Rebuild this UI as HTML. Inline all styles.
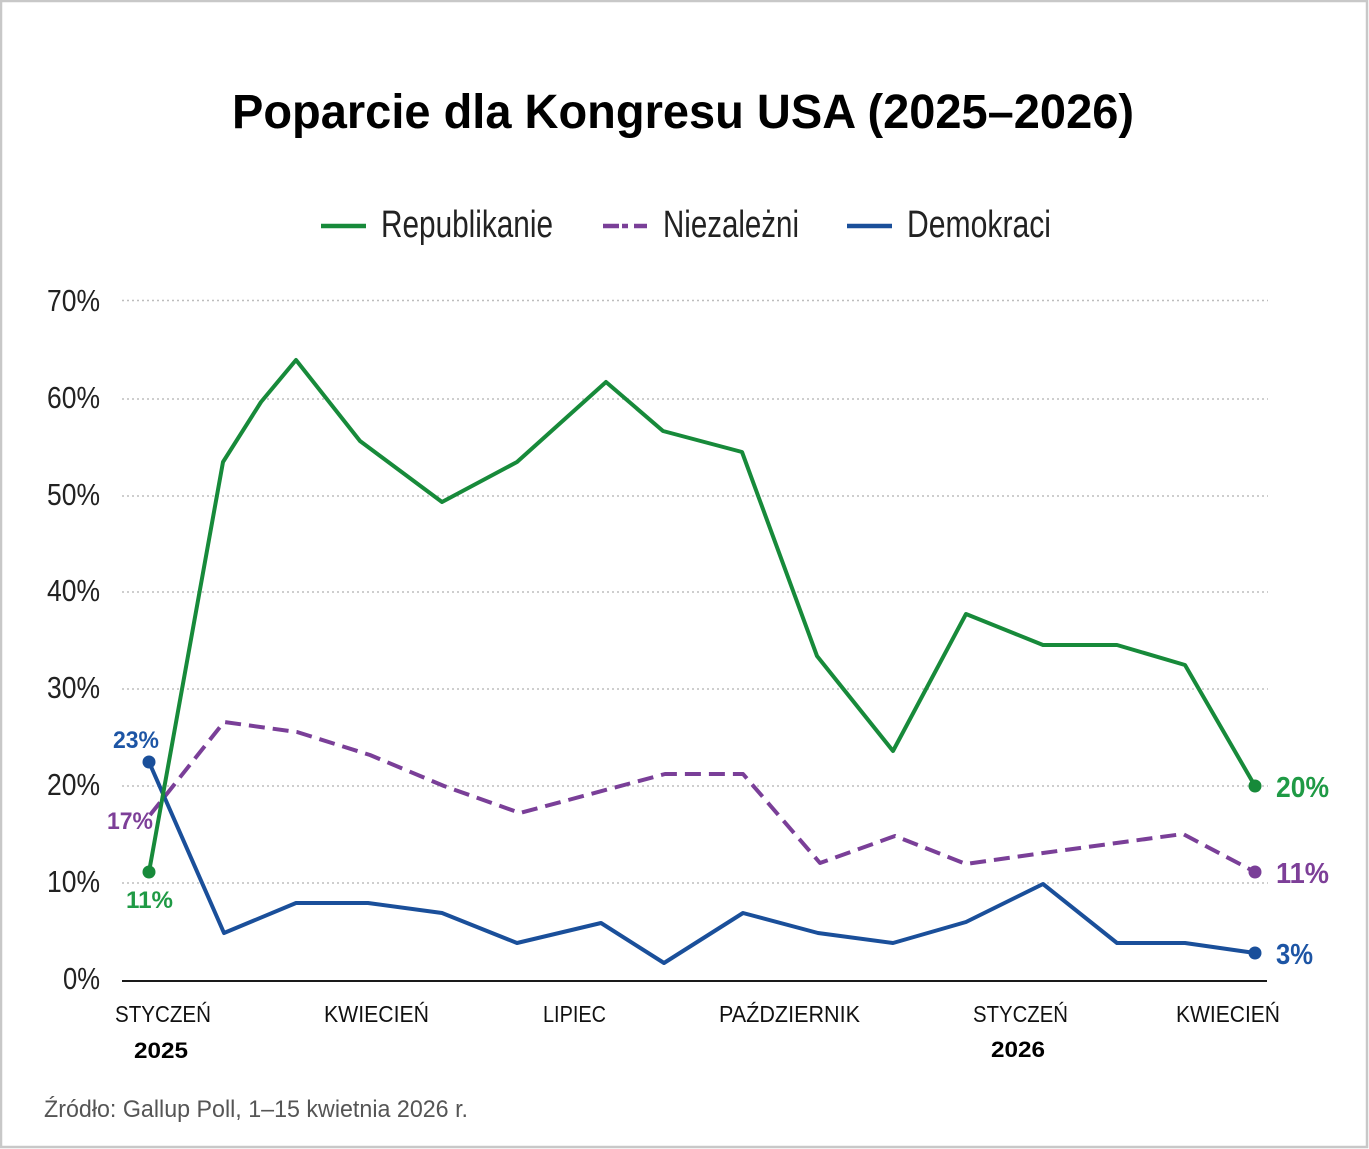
<!DOCTYPE html>
<html><head><meta charset="utf-8">
<style>
html,body{margin:0;padding:0;background:#fff;}
svg{display:block;}
text{font-family:"Liberation Sans",sans-serif;}
</style></head>
<body>
<svg width="1369" height="1149" viewBox="0 0 1369 1149" xmlns="http://www.w3.org/2000/svg">
<rect x="0" y="0" width="1369" height="1149" fill="#ffffff"/>
<rect x="1" y="1" width="1366" height="1146" fill="none" stroke="#c8c8c8" stroke-width="2.5"/>

<!-- Title -->
<text x="232" y="128" font-size="48" font-weight="bold" fill="#000" textLength="902" lengthAdjust="spacingAndGlyphs">Poparcie dla Kongresu USA (2025–2026)</text>

<!-- Legend -->
<line x1="321" y1="226" x2="366" y2="226" stroke="#178a3a" stroke-width="4.5"/>
<text x="381" y="237" font-size="38" fill="#222" textLength="172" lengthAdjust="spacingAndGlyphs">Republikanie</text>
<line x1="603" y1="226" x2="619" y2="226" stroke="#7a3f98" stroke-width="4.5"/>
<line x1="622" y1="226" x2="628" y2="226" stroke="#7a3f98" stroke-width="4.5"/>
<line x1="634" y1="226" x2="647" y2="226" stroke="#7a3f98" stroke-width="4.5"/>
<text x="663" y="237" font-size="38" fill="#222" textLength="136" lengthAdjust="spacingAndGlyphs">Niezależni</text>
<line x1="847" y1="226" x2="892" y2="226" stroke="#1a4f9a" stroke-width="4.5"/>
<text x="907" y="237" font-size="38" fill="#222" textLength="144" lengthAdjust="spacingAndGlyphs">Demokraci</text>

<!-- Gridlines -->
<g stroke="#bdbdbd" stroke-width="1.4" stroke-dasharray="2 3">
<line x1="122" y1="300.5" x2="1268" y2="300.5"/>
<line x1="122" y1="399" x2="1268" y2="399"/>
<line x1="122" y1="496" x2="1268" y2="496"/>
<line x1="122" y1="592" x2="1268" y2="592"/>
<line x1="122" y1="689" x2="1268" y2="689"/>
<line x1="122" y1="786" x2="1268" y2="786"/>
<line x1="122" y1="883" x2="1268" y2="883"/>
</g>
<line x1="122" y1="981" x2="1267" y2="981" stroke="#1a1a1a" stroke-width="2"/>

<!-- Y labels -->
<g font-size="31" fill="#222" text-anchor="end">
<text x="100" y="311" textLength="53" lengthAdjust="spacingAndGlyphs">70%</text>
<text x="100" y="408" textLength="53" lengthAdjust="spacingAndGlyphs">60%</text>
<text x="100" y="505" textLength="53" lengthAdjust="spacingAndGlyphs">50%</text>
<text x="100" y="601" textLength="53" lengthAdjust="spacingAndGlyphs">40%</text>
<text x="100" y="698" textLength="53" lengthAdjust="spacingAndGlyphs">30%</text>
<text x="100" y="795" textLength="53" lengthAdjust="spacingAndGlyphs">20%</text>
<text x="100" y="892" textLength="53" lengthAdjust="spacingAndGlyphs">10%</text>
<text x="100" y="989" textLength="37" lengthAdjust="spacingAndGlyphs">0%</text>
</g>

<!-- X labels -->
<g font-size="23" fill="#111">
<text x="115" y="1022" textLength="96" lengthAdjust="spacingAndGlyphs">STYCZEŃ</text>
<text x="324" y="1022" textLength="105" lengthAdjust="spacingAndGlyphs">KWIECIEŃ</text>
<text x="543" y="1022" textLength="63" lengthAdjust="spacingAndGlyphs">LIPIEC</text>
<text x="719" y="1022" textLength="141" lengthAdjust="spacingAndGlyphs">PAŹDZIERNIK</text>
<text x="973" y="1022" textLength="95" lengthAdjust="spacingAndGlyphs">STYCZEŃ</text>
<text x="1176" y="1022" textLength="104" lengthAdjust="spacingAndGlyphs">KWIECIEŃ</text>
</g>
<g font-size="22" font-weight="bold" fill="#000">
<text x="134" y="1058" textLength="54" lengthAdjust="spacingAndGlyphs">2025</text>
<text x="991" y="1057" textLength="54" lengthAdjust="spacingAndGlyphs">2026</text>
</g>

<!-- Source -->
<text x="44" y="1117" font-size="24" fill="#555" textLength="424" lengthAdjust="spacingAndGlyphs">Źródło: Gallup Poll, 1–15 kwietnia 2026 r.</text>

<!-- Series -->
<polyline fill="none" stroke="#7a3f98" stroke-width="4" stroke-dasharray="16 8" stroke-linejoin="round"
 points="150,815 224,722 297,732 370,755 444,786 520,813 665,774 743,774 820,863 895,836 966,864 1043,853 1183,834 1255,872"/>
<polyline fill="none" stroke="#1a4f9a" stroke-width="4" stroke-linejoin="round"
 points="149,762 224,933 296,903 368,903 442,913 517,943 601,923 664,963 743,913 818,933 893,943 966,922 1043,884 1117,943 1185,943 1255,953"/>
<polyline fill="none" stroke="#178a3a" stroke-width="4" stroke-linejoin="round"
 points="149,872 223,462 261,402 296,360 360,441 442,502 517,462 606,382 663,431 742,452 817,656 893,751 966,614 1043,645 1117,645 1185,665 1255,786"/>

<!-- Dots -->
<circle cx="149" cy="762" r="6.5" fill="#1a4f9a"/>
<circle cx="149" cy="872" r="6.5" fill="#178a3a"/>
<circle cx="1255" cy="786" r="6.5" fill="#178a3a"/>
<circle cx="1255" cy="872" r="6.5" fill="#7a3f98"/>
<circle cx="1255" cy="953" r="6.5" fill="#1a4f9a"/>

<!-- Value labels -->
<g font-weight="bold">
<text x="113" y="748" font-size="24" fill="#1d55a5" textLength="46" lengthAdjust="spacingAndGlyphs">23%</text>
<text x="107" y="829" font-size="24" fill="#7d3f98" textLength="46" lengthAdjust="spacingAndGlyphs">17%</text>
<text x="126" y="908" font-size="24" fill="#1f9a45" textLength="47" lengthAdjust="spacingAndGlyphs">11%</text>
<text x="1276" y="797" font-size="29" fill="#1f9a45" textLength="53" lengthAdjust="spacingAndGlyphs">20%</text>
<text x="1276" y="883" font-size="29" fill="#7d3f98" textLength="53" lengthAdjust="spacingAndGlyphs">11%</text>
<text x="1276" y="964" font-size="29" fill="#1d55a5" textLength="37" lengthAdjust="spacingAndGlyphs">3%</text>
</g>
</svg>
</body></html>
